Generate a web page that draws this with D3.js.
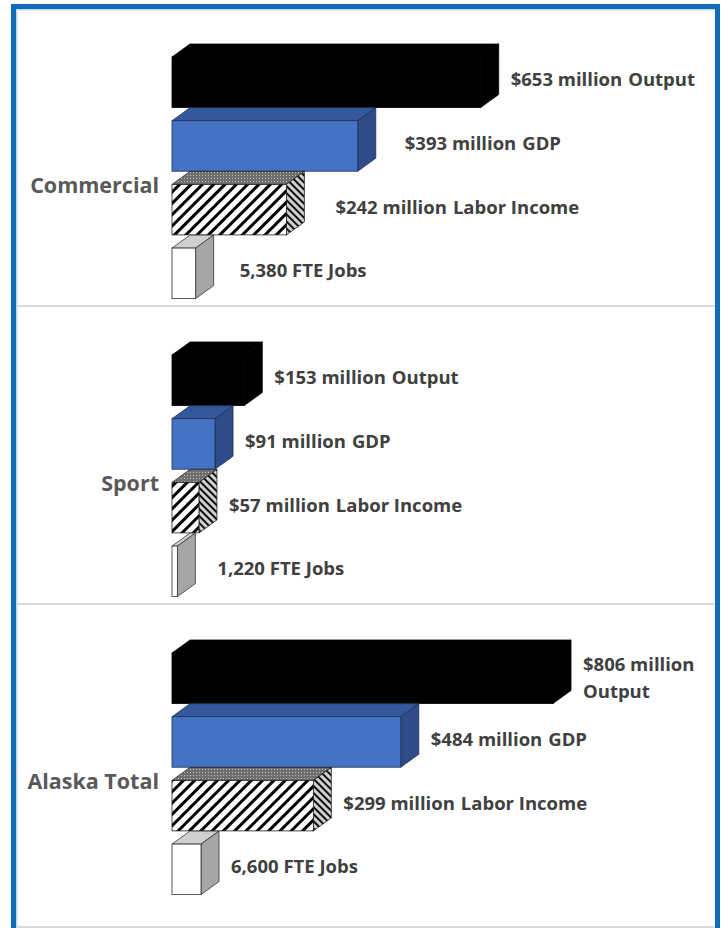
<!DOCTYPE html>
<html>
<head>
<meta charset="utf-8">
<script src="https://cdn.jsdelivr.net/npm/d3@7"></script>
<style>
  body { margin: 0; background: #fff; }
  text { font-family: "Open Sans", Lato, sans-serif; font-weight: bold; }
</style>
</head>
<body>
<div id="chart"></div>
<script>

const groups = ["Commercial", "Sport", "Alaska Total"];
const measures = ["Output", "GDP", "Labor Income", "FTE Jobs"];
const outputValues = [653, 153, 806];   // $ million
const gdpValues = [393, 91, 484];       // $ million
const laborValues = [242, 57, 299];     // $ million
const jobsValues = [5380, 1220, 6600];  // FTE jobs

const width = 723, height = 928;
const depth = {dx: 18, dy: 13};

let rows = [];
groups.forEach((g, i) => {
    rows.push({group: g, measure: "Output", value: outputValues[i]});
    rows.push({group: g, measure: "GDP", value: gdpValues[i]});
    rows.push({group: g, measure: "Labor Income", value: laborValues[i]});
    rows.push({group: g, measure: "FTE Jobs", value: jobsValues[i]});
});

let svg = d3.select("#chart")
    .append("svg")
        .attr("width", width)
        .attr("height", height);

// patterns
let defs = svg.append("defs");
let p1 = defs.append("pattern")
    .attr("id", "stripeFront")
    .attr("patternUnits", "userSpaceOnUse")
    .attr("width", 8).attr("height", 8)
    .attr("patternTransform", "rotate(45)");
p1.append("rect").attr("width", 8).attr("height", 8).attr("fill", "#fff");
p1.append("rect").attr("width", 3).attr("height", 8).attr("fill", "#000");

let p2 = defs.append("pattern")
    .attr("id", "stripeSide")
    .attr("patternUnits", "userSpaceOnUse")
    .attr("width", 5).attr("height", 5)
    .attr("patternTransform", "rotate(-45)");
p2.append("rect").attr("width", 5).attr("height", 5).attr("fill", "#d0d0d0");
p2.append("rect").attr("width", 2).attr("height", 5).attr("fill", "#111");

let p3 = defs.append("pattern")
    .attr("id", "dots")
    .attr("patternUnits", "userSpaceOnUse")
    .attr("width", 3).attr("height", 3);
p3.append("rect").attr("width", 3).attr("height", 3).attr("fill", "#6f6f6f");
p3.append("rect").attr("x", 1).attr("y", 1).attr("width", 1).attr("height", 1).attr("fill", "#bdbdbd");

let styles = {
    "Output":       {front: "#000", top: "#000", side: "#000", stroke: "#000"},
    "GDP":          {front: "#4472C4", top: "#34589c", side: "#2f4b8a", stroke: "#1f2f50"},
    "Labor Income": {front: "url(#stripeFront)", top: "url(#dots)", side: "url(#stripeSide)", stroke: "#222"},
    "FTE Jobs":     {front: "#fff", top: "#d0d0d0", side: "#a6a6a6", stroke: "#333"}
};

// scales
let x = d3.scaleLinear()
    .domain([0, d3.max(outputValues)])
    .range([172, 553]);

let xJobs = d3.scaleLinear()
    .domain([0, d3.max(jobsValues)])
    .range([172, 201]);

let yGroup = d3.scaleBand()
    .domain(groups)
    .range([8, 8 + 3 * 298]);

let yBar = d3.scaleBand()
    .domain(measures)
    .range([0, 241.6])
    .paddingInner(0.207);

let barsTop = 49;
let xOf = d => d.measure == "FTE Jobs" ? xJobs(d.value) : x(d.value);
let yOf = d => yGroup(d.group) + barsTop + yBar(d.measure);

// frame
svg.append("rect").attr("x", 11).attr("y", 4).attr("width", 709).attr("height", 5).attr("fill", "#0f6cbd");
svg.append("rect").attr("x", 11).attr("y", 4).attr("width", 5).attr("height", height).attr("fill", "#0f6cbd");
svg.append("rect").attr("x", 715).attr("y", 4).attr("width", 5).attr("height", height).attr("fill", "#0f6cbd");
svg.append("rect").attr("x", 16).attr("y", 9).attr("width", 1.5).attr("height", height).attr("fill", "#c5d6e8");
svg.append("rect").attr("x", 16).attr("y", 9).attr("width", 699).attr("height", 1.5).attr("fill", "#c5d6e8");

// separators
svg.selectAll("line.sep")
    .data(groups.slice(1))
    .join("line")
    .attr("x1", 17).attr("x2", 715)
    .attr("y1", d => yGroup(d)).attr("y2", d => yGroup(d))
    .attr("stroke", "#d9d9d9")
    .attr("stroke-width", 2);
svg.append("line")
    .attr("x1", 17).attr("x2", 715)
    .attr("y1", 927).attr("y2", 927)
    .attr("stroke", "#d9d9d9")
    .attr("stroke-width", 2);

// 3D bars
let bars = svg.selectAll("g.bar")
    .data(rows)
    .join("g")
    .attr("class", "bar");

bars.append("polygon")
    .attr("points", d => {
        let x0 = x(0), x1 = xOf(d), y0 = yOf(d);
        return [[x0, y0], [x0 + depth.dx, y0 - depth.dy], [x1 + depth.dx, y0 - depth.dy], [x1, y0]].join(" ");
    })
    .attr("fill", d => styles[d.measure].top)
    .attr("stroke", d => styles[d.measure].stroke)
    .attr("stroke-width", 0.8)
    .attr("stroke-linejoin", "round");

bars.append("polygon")
    .attr("points", d => {
        let x1 = xOf(d), y0 = yOf(d), h = yBar.bandwidth();
        return [[x1, y0], [x1 + depth.dx, y0 - depth.dy], [x1 + depth.dx, y0 + h - depth.dy], [x1, y0 + h]].join(" ");
    })
    .attr("fill", d => styles[d.measure].side)
    .attr("stroke", d => styles[d.measure].stroke)
    .attr("stroke-width", 0.8)
    .attr("stroke-linejoin", "round");

bars.append("rect")
    .attr("x", x(0))
    .attr("y", yOf)
    .attr("width", d => xOf(d) - x(0))
    .attr("height", yBar.bandwidth())
    .attr("fill", d => styles[d.measure].front)
    .attr("stroke", d => styles[d.measure].stroke)
    .attr("stroke-width", 0.8);

// value labels
let labelNudge = {"Commercial|GDP": 17, "Commercial|Labor Income": 19, "Commercial|FTE Jobs": 14, "Sport|FTE Jobs": 10};
let fmt = d3.format(",");
let labels = svg.selectAll("text.val")
    .data(rows)
    .join("text")
    .attr("class", "val")
    .attr("x", d => xOf(d) + depth.dx + 12 + (labelNudge[d.group + "|" + d.measure] || 0))
    .attr("y", d => yOf(d) + yBar.bandwidth() / 2 - 4)
    .attr("dominant-baseline", "central")
    .attr("font-size", 18.5)
    .attr("fill", "#404040")
    .each(function(d) {
        let t = d3.select(this);
        if (d.measure == "FTE Jobs") {
            t.text(fmt(d.value) + " FTE Jobs");
            return;
        }
        let tx = +t.attr("x");
        t.append("tspan").text("$" + d.value + " million");
        let m = t.append("tspan").attr("dx", 6).text(d.measure);
        if (this.getComputedTextLength() + tx > 706) {
            t.attr("y", +t.attr("y") - 11);
            m.attr("x", tx).attr("dx", 0).attr("dy", 27);
        }
    });

// group labels
svg.selectAll("text.grp")
    .data(groups)
    .join("text")
    .attr("class", "grp")
    .attr("x", 159)
    .attr("y", d => yGroup(d) + barsTop + 127)
    .attr("text-anchor", "end")
    .attr("dominant-baseline", "central")
    .attr("font-size", 21.5)
    .attr("fill", "#595959")
    .text(d => d);

</script>
</body>
</html>
